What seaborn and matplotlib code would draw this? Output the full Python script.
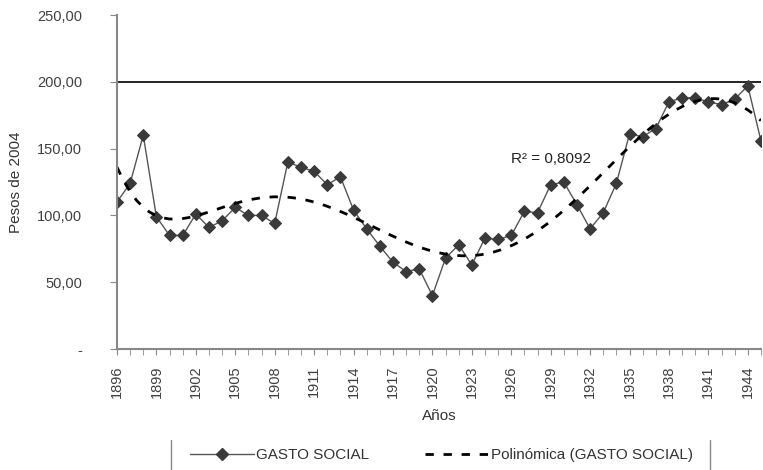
import numpy as np
import pandas as pd
import matplotlib
matplotlib.use("Agg")
import matplotlib.pyplot as plt
import seaborn as sns
from matplotlib.lines import Line2D
from matplotlib.ticker import FuncFormatter, MultipleLocator

# Gasto social, pesos de 2004
years = list(range(1896, 1946))
gasto = [110, 124, 160, 99, 85, 85, 101, 91, 96, 106,
         100, 100, 94, 140, 136, 133, 123, 129, 104, 90,
         77, 65, 58, 60, 40, 68, 78, 63, 83, 82,
         85, 103, 102, 123, 125, 108, 90, 102, 124, 161,
         159, 165, 185, 188, 188, 185, 183, 187, 197, 156]
label_years = list(range(1896, 1946, 3))
r2_text = "R² = 0,8092"

df = pd.DataFrame({"year": years, "gasto": gasto})
df["t"] = df["year"] - years[0]

sns.set_style("white")
plt.rcParams["font.family"] = ["Liberation Sans", "DejaVu Sans"]

fig = plt.figure(figsize=(7.63, 4.70), dpi=100)
ax = fig.add_axes([0.1533, 0.2574, 0.8440, 0.7106])

sns.lineplot(data=df, x="t", y="gasto", ax=ax, color="#555555", linewidth=1,
             marker="D", markersize=6, markerfacecolor="#3a3a3a",
             markeredgecolor="#3a3a3a", legend=False)
sns.regplot(data=df, x="t", y="gasto", ax=ax, order=6, ci=None, scatter=False,
            line_kws={"color": "black", "linewidth": 2, "linestyle": (0, (3, 3.5))})

ax.axhline(200, color="black", linewidth=1.2, zorder=0)

ax.set_xlim(0, years[-1] - years[0])
ax.set_ylim(0, 250)
ax.yaxis.set_major_locator(MultipleLocator(50))
ax.yaxis.set_major_formatter(FuncFormatter(
    lambda v, p: "-" if v == 0 else f"{v:.2f}".replace(".", ",")))
ax.set_xticks([y - years[0] for y in label_years])
ax.set_xticklabels([str(y) for y in label_years], rotation=90)
ax.xaxis.set_minor_locator(MultipleLocator(1))

for s in ["top", "right"]:
    ax.spines[s].set_visible(False)
ax.spines["left"].set_color("#888888")
ax.spines["bottom"].set_color("#888888")
ax.spines["left"].set_linewidth(1.5)
ax.spines["bottom"].set_linewidth(1.5)
ax.tick_params(axis="both", which="both", direction="out", color="#888888",
               labelsize=10.5, labelcolor="#404040")
ax.tick_params(axis="x", which="both", length=4, bottom=True, pad=8)
ax.tick_params(axis="y", which="major", length=5, left=True, pad=20)

ax.set_xlabel("Años", fontsize=11, color="#333333", labelpad=8)
ax.set_ylabel("Pesos de 2004", fontsize=11, color="#333333", labelpad=10)

ax.text(33.0, 142, r2_text, fontsize=11, color="#222222", ha="center", va="center")

handles = [
    Line2D([], [], color="#555555", linewidth=1, marker="D", markersize=6,
           markerfacecolor="#3a3a3a", markeredgecolor="#3a3a3a"),
    Line2D([], [], color="black", linewidth=2, linestyle=(0, (3, 3.5))),
]
fig.legend(handles, ["GASTO SOCIAL", "Polinómica (GASTO SOCIAL)"], ncol=2,
           loc="center", bbox_to_anchor=(0.5786, 0.032), frameon=False,
           fontsize=11, handlelength=4.2, handletextpad=0.1, columnspacing=3.7,
           labelcolor="#333333")
for xf in [171 / 763, 710 / 763]:
    fig.add_artist(Line2D([xf, xf], [0, 30 / 470], color="#888888", linewidth=1))

fig.savefig("out.png", dpi=100)
